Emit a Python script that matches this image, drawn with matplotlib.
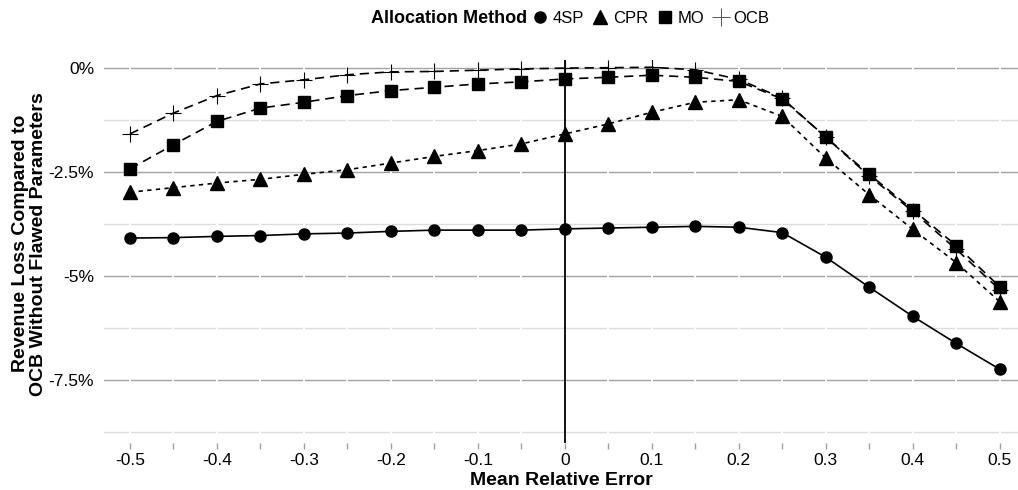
import matplotlib
matplotlib.use("Agg")
import matplotlib.pyplot as plt
from matplotlib.lines import Line2D
from matplotlib.ticker import FixedLocator, FuncFormatter

plt.rcParams["font.family"] = ["Liberation Sans", "DejaVu Sans"]
plt.rcParams["axes.unicode_minus"] = False

# mean relative error of the flawed parameters
error = [-0.5, -0.45, -0.4, -0.35, -0.3, -0.25, -0.2, -0.15, -0.1, -0.05, 0.0,
         0.05, 0.1, 0.15, 0.2, 0.25, 0.3, 0.35, 0.4, 0.45, 0.5]

# revenue loss (%) vs OCB without flawed parameters
loss_4sp = [-4.09, -4.08, -4.05, -4.03, -3.99, -3.97, -3.93, -3.90, -3.90, -3.90, -3.87,
            -3.85, -3.83, -3.81, -3.83, -3.96, -4.55, -5.27, -5.97, -6.62, -7.24]
loss_cpr = [-2.99, -2.88, -2.77, -2.68, -2.56, -2.45, -2.29, -2.13, -1.99, -1.83, -1.59,
            -1.35, -1.07, -0.83, -0.77, -1.17, -2.17, -3.05, -3.88, -4.68, -5.62]
loss_mo = [-2.43, -1.85, -1.29, -0.97, -0.83, -0.67, -0.55, -0.47, -0.39, -0.34, -0.27,
           -0.23, -0.18, -0.23, -0.33, -0.75, -1.67, -2.56, -3.41, -4.27, -5.26]
loss_ocb = [-1.59, -1.09, -0.67, -0.39, -0.29, -0.17, -0.10, -0.09, -0.06, -0.03, -0.01,
            0.0, 0.01, -0.05, -0.28, -0.73, -1.67, -2.60, -3.45, -4.36, -5.33]

x_labels = ["-0.5", "-0.4", "-0.3", "-0.2", "-0.1", "0", "0.1", "0.2", "0.3", "0.4", "0.5"]
x_label_pos = [-0.5, -0.4, -0.3, -0.2, -0.1, 0.0, 0.1, 0.2, 0.3, 0.4, 0.5]
y_major = [0, -2.5, -5, -7.5]
y_minor = [-1.25, -3.75, -6.25, -8.75]

fig = plt.figure(figsize=(10.18, 4.9), dpi=100)
ax = fig.add_axes([0.102, 0.096, 0.898, 0.782])
ax.set_xlim(-0.53, 0.521)
ax.set_ylim(-9.01, 0.19)

# panel grid: gray horizontals cut by white verticals
for y in y_major:
    ax.axhline(y, color="#a3a3a3", lw=1.0, zorder=0.3)
for y in y_minor:
    ax.axhline(y, color="#dcdcdc", lw=1.0, zorder=0.3)
for x in error:
    ax.axvline(x, color="white", lw=1.4, zorder=0.5)
ax.axvline(0, color="black", lw=1.3, zorder=1)

mk = dict(color="black", mec="black")
ax.plot(error, loss_4sp, ls="-", lw=1.2, marker="o", ms=8, zorder=3, **mk)
ax.plot(error, loss_cpr, ls=(0, (2.6, 2.6)), lw=1.2, marker="^", ms=9.5, zorder=3, **mk)
ax.plot(error, loss_mo, ls=(0, (5.5, 3.5)), lw=1.2, marker="s", ms=8, zorder=3, **mk)
ax.plot(error, loss_ocb, ls=(0, (5.5, 3.5)), lw=1.2, marker="+", ms=12, mew=0.8, zorder=2, **mk)

for s in ax.spines.values():
    s.set_visible(False)

ax.xaxis.set_major_locator(FixedLocator(x_label_pos))
ax.set_xticklabels(x_labels)
ax.xaxis.set_minor_locator(FixedLocator(error))
ax.tick_params(axis="x", which="both", length=4, width=1, color="#a0a0a0",
               labelsize=12.5, pad=3)
ax.set_yticks(y_major)
ax.yaxis.set_major_formatter(FuncFormatter(lambda v, p: "{:g}%".format(v)))
ax.tick_params(axis="y", length=0, labelsize=12.5, pad=7)

ax.set_xlabel("Mean Relative Error", fontsize=14, fontweight="bold", labelpad=3)
ax.set_ylabel("Revenue Loss Compared to\nOCB Without Flawed Parameters",
              fontsize=14, fontweight="bold", linespacing=1.12)
ax.yaxis.set_label_coords(-0.062, 0.52)

handles = [
    Line2D([], [], ls="None", marker="o", ms=8, **mk),
    Line2D([], [], ls="None", marker="^", ms=9.5, **mk),
    Line2D([], [], ls="None", marker="s", ms=8, **mk),
    Line2D([], [], ls="None", marker="+", ms=13, mew=0.7, color="#555555"),
]
fig.text(0.518, 0.962, "Allocation Method", ha="right", va="center",
         fontsize=13, fontweight="bold")
fig.legend(handles, ["4SP", "CPR", "MO", "OCB"], ncol=4, frameon=False,
           loc="center left", bbox_to_anchor=(0.523, 0.962), fontsize=12,
           handlelength=0.9, handletextpad=0.3, columnspacing=0.55,
           borderpad=0, borderaxespad=0)

fig.savefig("out.png", dpi=100)
